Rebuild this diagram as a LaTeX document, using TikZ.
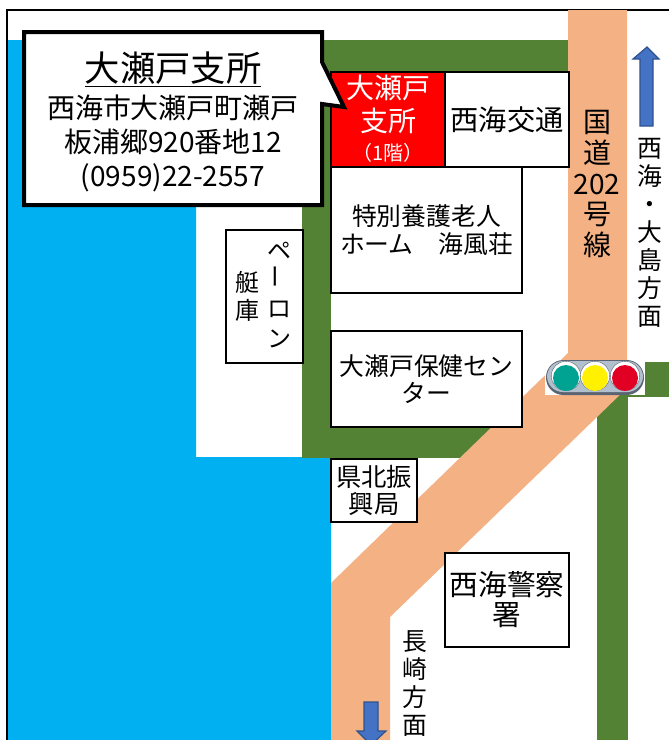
\documentclass[tikz,border=0pt]{standalone}
\usepackage{fontspec}
\setmainfont{Noto Sans CJK JP}
\newcommand{\fpx}[2]{\fontsize{#1}{#2}\selectfont}
\definecolor{seablue}{RGB}{0,176,240}
\definecolor{parkgreen}{RGB}{84,130,53}
\definecolor{roadtan}{RGB}{244,177,131}
\definecolor{arrowblue}{RGB}{68,114,196}
\definecolor{arrowedge}{RGB}{47,82,143}
\definecolor{sigbody}{RGB}{178,192,206}
\definecolor{sigedge}{RGB}{90,100,115}
\definecolor{siggreen}{RGB}{0,163,146}
\definecolor{sigyellow}{RGB}{255,241,0}
\definecolor{sigred}{RGB}{225,0,36}
\tikzset{
  bldg/.style={draw=black,line width=1.6pt,fill=white,inner sep=0pt,outer sep=0pt,align=center,text=black},
  lbl/.style={inner sep=0pt,outer sep=0pt,align=center,text=black},
  dirarrow/.style={fill=arrowblue,draw=arrowedge,line width=0.9pt},
  lamprim/.style={circle,minimum size=22pt,inner sep=0pt,fill=white,draw=sigedge,line width=0.3pt},
  lampglass/.style={circle,minimum size=19.5pt,inner sep=0pt}
}
\newcommand{\bldgbox}[7]{% name, x1,y1,x2,y2, font, text
  \node[bldg,font=#6,minimum width=#4*0.75pt-#2*0.75pt,minimum height=#5*0.75pt-#3*0.75pt,anchor=north west] (#1) at (#2,#3) {#7};}
\begin{document}
\begin{tikzpicture}[x=0.75pt,y=-0.75pt]
\useasboundingbox (0,0) rectangle (669,740);
\fill[white] (0,0) rectangle (669,740);
% sea
\fill[seablue] (8,40) -- (196,40) -- (196,457) -- (331,457) -- (331,740) -- (8,740) -- cycle;
% frame
\draw[black,line width=1.6pt] (7,740) -- (7,10) -- (669,10);
% green
\fill[parkgreen] (302,40) rectangle (569,73);
\fill[parkgreen] (302,40) rectangle (331,458);
\fill[parkgreen] (302,427) rectangle (510,458);
\fill[parkgreen] (597,362) rectangle (669,397);
\fill[parkgreen] (597,362) rectangle (628,740);
% road
\fill[roadtan] (568,10) -- (627,10) -- (627,388) -- (390,617) -- (390,740) -- (331,740) -- (331,583) -- (568,353) -- cycle;
% buildings
\bldgbox{honbu}{331}{72}{445}{167}{\fpx{21}{24}}{}
\fill[red] (331,72) rectangle (445,167);
\draw[black,line width=1.6pt] (331,72) rectangle (445,167);
\node[lbl,text=white,font=\fpx{21}{24.3}] (shiten) at (388,119) {大瀬戸\\支所\\[-2pt]\fpx{15}{19}（1階）};
\bldgbox{kotsu}{445}{72}{569}{167}{\fpx{21.2}{24}}{西海交通}
\bldgbox{kaifu}{331}{167}{522}{293}{\fpx{18.6}{21}}{特別養護老人\\ホーム　海風荘}
\bldgbox{hoken}{331}{331}{522}{427}{\fpx{18.6}{20}}{大瀬戸保健セン\\ター}
\bldgbox{kenpoku}{331}{459}{417}{522}{\fpx{19}{20.5}}{県北振\\興局}
\bldgbox{keisatsu}{445}{553}{569}{647}{\fpx{21.5}{22.5}}{西海警察\\署}
\bldgbox{teiko}{226}{230}{303}{363}{\fpx{18}{21}}{}
\node[lbl,font=\fpx{18}{21}] (teikoa) at (247,296) {艇\\庫};
\node[lbl,font=\fpx{18}{21.8}] (teikob) at (279,295) {ペ\\\rotatebox{90}{ー}\\ロ\\ン};
% callout
\draw[black,line width=3pt,fill=white,miter limit=10] (24,32) -- (322,32) -- (322,62) -- (344,107) -- (322,104) -- (322,205) -- (24,205) -- cycle;
\node[lbl,font=\fpx{26.5}{30}] (title) at (173,69) {\underline{大瀬戸支所}};
\node[lbl,font=\fpx{21}{25.5}] (addr) at (173,143) {西海市大瀬戸町瀬戸\\板浦郷920番地12\\(0959)22-2557};
% road labels
\node[lbl,font=\fpx{21}{23}] (kokudo) at (597,184) {国\\道\\202\\号\\線};
\node[lbl,font=\fpx{18.6}{21}] (oshima) at (650,233) {西\\海\\・\\大\\島\\方\\面};
\node[lbl,font=\fpx{18.6}{21}] (nagasaki) at (415,684) {長\\崎\\方\\面};
% direction arrows
\draw[dirarrow] (640,126) -- (640,59) -- (633,59) -- (647,47) -- (659,59) -- (653,59) -- (653,126) -- cycle;
\draw[dirarrow] (364,702) -- (378,702) -- (378,731) -- (386,731) -- (371,745) -- (357,731) -- (364,731) -- cycle;
% signal
\fill[white] (545,360) rectangle (645,395);
\fill[sigedge,rounded corners=13pt] (546,360) rectangle (644,395);
\fill[sigbody,rounded corners=12pt] (547,361) rectangle (643,392);
\node[lamprim] (lampgw) at (566,376) {};
\node[lamprim] (lampyw) at (595,376) {};
\node[lamprim] (lamprw) at (625,376) {};
\node[lampglass,fill=siggreen] (lampg) at (566,378) {};
\node[lampglass,fill=sigyellow] (lampy) at (595,378) {};
\node[lampglass,fill=sigred] (lampr) at (625,378) {};
\end{tikzpicture}
\end{document}
